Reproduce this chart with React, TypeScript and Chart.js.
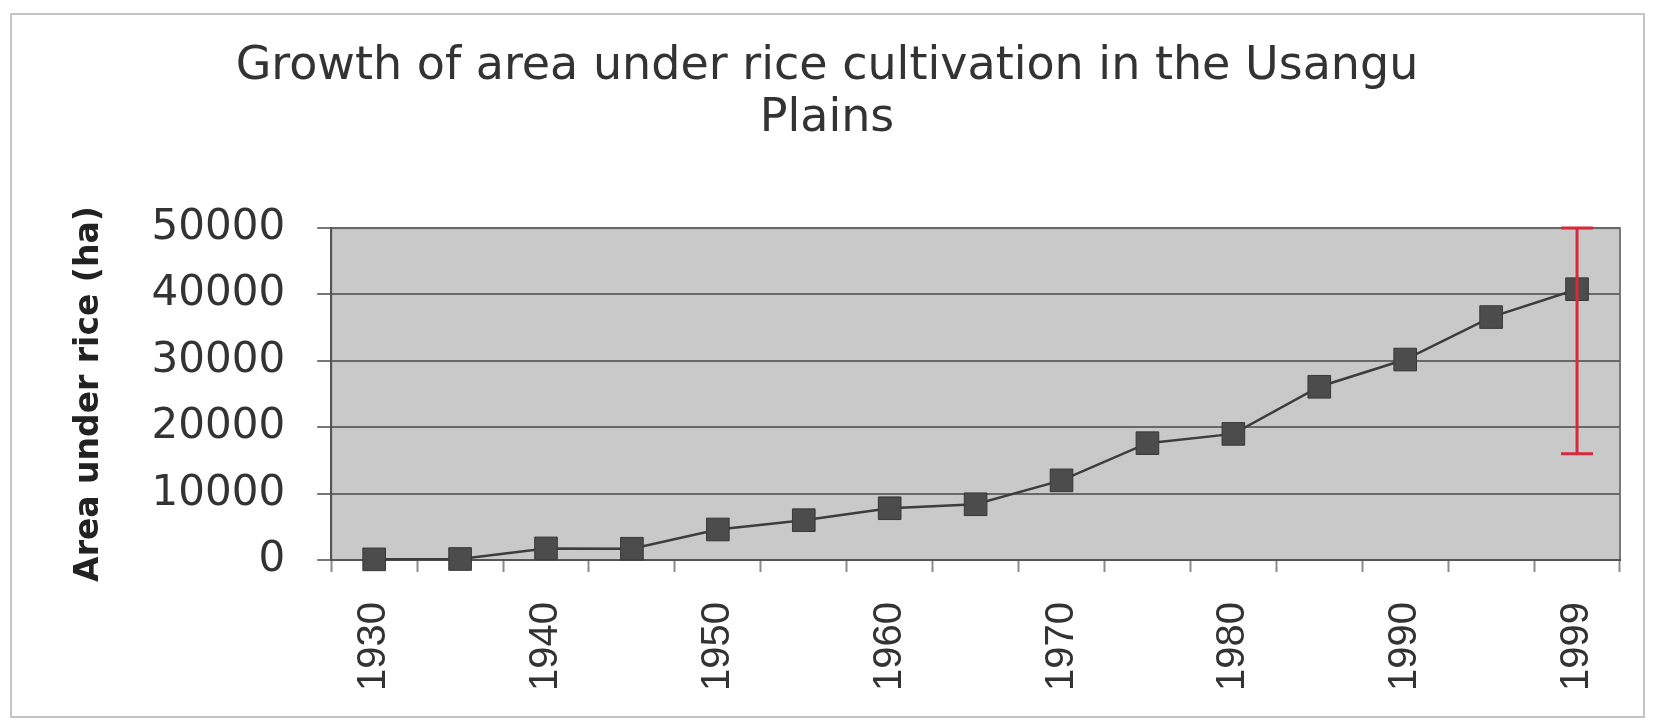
import React, { useEffect, useRef } from 'react';
import { Chart, registerables } from 'chart.js';

Chart.register(...registerables);

// ---- Data ----
const years = ['1930', '1935', '1940', '1945', '1950', '1955', '1960', '1965', '1970', '1975', '1980', '1985', '1990', '1995', '1999'];
const areaHa = [100, 150, 1750, 1700, 4600, 6000, 7800, 8400, 12000, 17600, 19000, 26100, 30200, 36600, 40800];
const errorLow: (number | null)[] = [null, null, null, null, null, null, null, null, null, null, null, null, null, null, 16000];
const errorHigh: (number | null)[] = [null, null, null, null, null, null, null, null, null, null, null, null, null, null, 50000];
const shownYearLabels = ['1930', '1940', '1950', '1960', '1970', '1980', '1990', '1999'];
const yTickValues = [0, 10000, 20000, 30000, 40000, 50000];
const titleLines = ['Growth of area under rice cultivation in the Usangu', 'Plains'];
const yAxisTitle = 'Area under rice (ha)';

const plotBackground = {
  id: 'plotBackground',
  beforeDraw(chart: any) {
    const { ctx, chartArea } = chart;
    const { left, top, right, bottom } = chartArea;
    ctx.save();
    ctx.fillStyle = '#c9c9c9';
    ctx.fillRect(left, top, right - left, bottom - top);
    ctx.strokeStyle = '#7a7a7a';
    ctx.lineWidth = 2;
    ctx.strokeRect(left, top, right - left, bottom - top);
    ctx.restore();
  },
};

const errorBars = {
  id: 'errorBars',
  afterDatasetsDraw(chart: any) {
    const { ctx } = chart;
    const x = chart.scales.x;
    const y = chart.scales.y;
    ctx.save();
    ctx.strokeStyle = '#d42a3c';
    ctx.lineWidth = 3;
    errorLow.forEach((lo, i) => {
      const hi = errorHigh[i];
      if (lo == null || hi == null) return;
      const px = x.getPixelForValue(i);
      const y1 = y.getPixelForValue(lo);
      const y2 = y.getPixelForValue(hi);
      const cap = 16;
      ctx.beginPath();
      ctx.moveTo(px, y1);
      ctx.lineTo(px, y2);
      ctx.moveTo(px - cap, y1);
      ctx.lineTo(px + cap, y1);
      ctx.moveTo(px - cap, y2);
      ctx.lineTo(px + cap, y2);
      ctx.stroke();
    });
    ctx.restore();
  },
};

export default function App() {
  const canvasRef = useRef<HTMLCanvasElement | null>(null);

  useEffect(() => {
    if (!canvasRef.current) return;
    Chart.defaults.font.family = "'Liberation Sans', Arial, sans-serif";
    const chart = new Chart(canvasRef.current, {
      type: 'line',
      data: {
        labels: years,
        datasets: [
          {
            label: 'Area under rice',
            data: areaHa,
            borderColor: '#3d3d3d',
            borderWidth: 2.5,
            pointStyle: 'rect',
            pointRadius: 16,
            pointBackgroundColor: '#4c4c4c',
            pointBorderColor: '#383838',
            pointBorderWidth: 1,
            tension: 0,
            clip: false as any,
          },
        ],
      },
      options: {
        animation: false,
        responsive: true,
        maintainAspectRatio: false,
        layout: { padding: { left: 34, right: 37, top: 0, bottom: 0 } },
        plugins: {
          legend: { display: false },
          tooltip: { enabled: false },
          title: {
            display: true,
            text: titleLines,
            color: '#333333',
            font: { family: "'DejaVu Sans', sans-serif", size: 46, weight: 'normal', lineHeight: 1.11 },
            padding: { top: 42, bottom: 84 },
          },
        },
        scales: {
          x: {
            type: 'category',
            offset: true,
            grid: {
              offset: true,
              drawOnChartArea: false,
              drawTicks: true,
              tickLength: 12,
              tickColor: '#8a8a8a',
              tickWidth: 2,
            },
            border: { display: true, color: '#555555', width: 2 },
            ticks: {
              autoSkip: false,
              maxRotation: 90,
              minRotation: 90,
              padding: 30,
              color: '#333333',
              font: { family: "'Liberation Sans', Arial, sans-serif", size: 40 },
              callback: (_v: any, i: number) => (shownYearLabels.includes(years[i]) ? years[i] : ''),
            },
          },
          y: {
            min: yTickValues[0],
            max: yTickValues[yTickValues.length - 1],
            afterBuildTicks: (scale: any) => {
              scale.ticks = yTickValues.map((v) => ({ value: v }));
            },
            grid: {
              color: '#686868',
              lineWidth: 2,
              drawTicks: true,
              tickLength: 14,
              tickColor: '#777777',
            },
            border: { display: true, color: '#555555', width: 2 },
            ticks: {
              padding: 32,
              color: '#333333',
              font: { family: "'DejaVu Sans', sans-serif", size: 42 },
              callback: (v: any) => String(v),
            },
            title: {
              display: true,
              text: yAxisTitle,
              color: '#222222',
              font: { family: "'DejaVu Sans', sans-serif", size: 33, weight: 'bold', lineHeight: 1.2 },
              padding: { top: 36, bottom: 10 },
            },
          },
        },
      },
      plugins: [plotBackground, errorBars],
    } as any);
    return () => chart.destroy();
  }, []);

  return (
    <div style={{ position: 'fixed', left: 0, top: 0, width: 1657, height: 721, background: '#ffffff', overflow: 'hidden' }}>
      <canvas ref={canvasRef} />
      <div
        style={{
          position: 'absolute',
          left: 10,
          top: 13,
          width: 1635,
          height: 705,
          border: '2px solid #c4c4c4',
          boxSizing: 'border-box',
          pointerEvents: 'none',
        }}
      />
    </div>
  );
}
